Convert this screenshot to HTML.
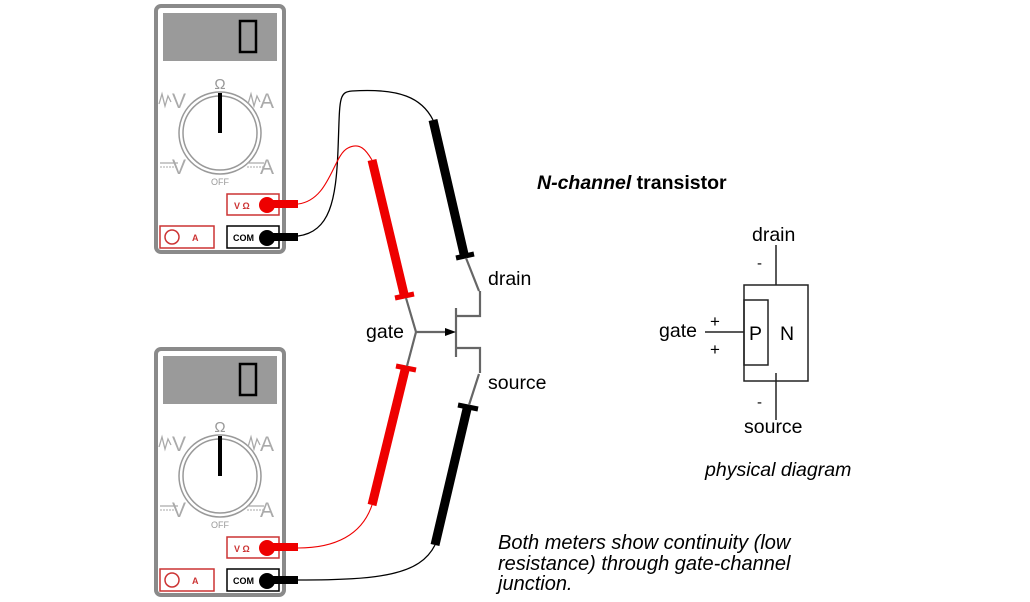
<!DOCTYPE html>
<html><head><meta charset="utf-8"><style>
html,body{margin:0;padding:0;background:#fff}
svg{display:block;font-family:"Liberation Sans",sans-serif}
</style></head><body>
<svg width="1030" height="602" viewBox="0 0 1030 602" xmlns="http://www.w3.org/2000/svg">
<!-- Meter 1 -->
<g transform="translate(0,0)">
<rect x="156" y="6" width="128" height="246" rx="5" fill="#fff" stroke="#8a8a8a" stroke-width="4"/>
<rect x="163" y="13" width="114" height="48" fill="#9a9a9a"/>
<rect x="240" y="21" width="16" height="31" fill="none" stroke="#000" stroke-width="2.5"/>
<circle cx="220" cy="133" r="41" fill="none" stroke="#999" stroke-width="1.5"/>
<circle cx="220" cy="133" r="37" fill="none" stroke="#999" stroke-width="1.5"/>
<line x1="220" y1="93" x2="220" y2="133" stroke="#000" stroke-width="4"/>
<text x="220" y="89" font-size="15" fill="#999" text-anchor="middle">Ω</text>
<text x="172" y="108" font-size="21" fill="#aaa">V</text>
<path d="M159,104 l3,-10 l3,12 l3,-10 l3,6" fill="none" stroke="#aaa" stroke-width="1.3"/>
<text x="260" y="108" font-size="21" fill="#aaa">A</text>
<path d="M248,104 l3,-10 l3,12 l3,-10 l3,6" fill="none" stroke="#aaa" stroke-width="1.3"/>
<text x="172" y="174" font-size="21" fill="#aaa">V</text>
<line x1="160" y1="163" x2="178" y2="163" stroke="#aaa" stroke-width="1.3"/>
<line x1="160" y1="167" x2="178" y2="167" stroke="#aaa" stroke-width="1" stroke-dasharray="2,1"/>
<text x="260" y="174" font-size="21" fill="#aaa">A</text>
<line x1="247" y1="163" x2="264" y2="163" stroke="#aaa" stroke-width="1.3"/>
<line x1="247" y1="167" x2="264" y2="167" stroke="#aaa" stroke-width="1" stroke-dasharray="2,1"/>
<text x="220" y="185" font-size="9" fill="#999" text-anchor="middle">OFF</text>
<rect x="227" y="194" width="52" height="21" fill="#fff" stroke="#c33" stroke-width="1.5"/>
<text x="234" y="209" font-size="9" font-weight="bold" fill="#c33">V Ω</text>
<rect x="160" y="226" width="54" height="22" fill="#fff" stroke="#c33" stroke-width="1.5"/>
<circle cx="172" cy="237" r="7" fill="none" stroke="#c33" stroke-width="1.5"/>
<text x="192" y="241" font-size="9" font-weight="bold" fill="#c33">A</text>
<rect x="227" y="226" width="52" height="22" fill="#fff" stroke="#000" stroke-width="1.5"/>
<text x="233" y="241" font-size="9" font-weight="bold" fill="#000">COM</text>
<rect x="266" y="200" width="32" height="8" fill="#e00"/>
<circle cx="267" cy="205" r="8" fill="#e00"/>
<rect x="266" y="233" width="32" height="8" fill="#000"/>
<circle cx="267" cy="238" r="8" fill="#000"/>
</g>
<!-- Meter 2 -->
<g transform="translate(0,343)">
<rect x="156" y="6" width="128" height="246" rx="5" fill="#fff" stroke="#8a8a8a" stroke-width="4"/>
<rect x="163" y="13" width="114" height="48" fill="#9a9a9a"/>
<rect x="240" y="21" width="16" height="31" fill="none" stroke="#000" stroke-width="2.5"/>
<circle cx="220" cy="133" r="41" fill="none" stroke="#999" stroke-width="1.5"/>
<circle cx="220" cy="133" r="37" fill="none" stroke="#999" stroke-width="1.5"/>
<line x1="220" y1="93" x2="220" y2="133" stroke="#000" stroke-width="4"/>
<text x="220" y="89" font-size="15" fill="#999" text-anchor="middle">Ω</text>
<text x="172" y="108" font-size="21" fill="#aaa">V</text>
<path d="M159,104 l3,-10 l3,12 l3,-10 l3,6" fill="none" stroke="#aaa" stroke-width="1.3"/>
<text x="260" y="108" font-size="21" fill="#aaa">A</text>
<path d="M248,104 l3,-10 l3,12 l3,-10 l3,6" fill="none" stroke="#aaa" stroke-width="1.3"/>
<text x="172" y="174" font-size="21" fill="#aaa">V</text>
<line x1="160" y1="163" x2="178" y2="163" stroke="#aaa" stroke-width="1.3"/>
<line x1="160" y1="167" x2="178" y2="167" stroke="#aaa" stroke-width="1" stroke-dasharray="2,1"/>
<text x="260" y="174" font-size="21" fill="#aaa">A</text>
<line x1="247" y1="163" x2="264" y2="163" stroke="#aaa" stroke-width="1.3"/>
<line x1="247" y1="167" x2="264" y2="167" stroke="#aaa" stroke-width="1" stroke-dasharray="2,1"/>
<text x="220" y="185" font-size="9" fill="#999" text-anchor="middle">OFF</text>
<rect x="227" y="194" width="52" height="21" fill="#fff" stroke="#c33" stroke-width="1.5"/>
<text x="234" y="209" font-size="9" font-weight="bold" fill="#c33">V Ω</text>
<rect x="160" y="226" width="54" height="22" fill="#fff" stroke="#c33" stroke-width="1.5"/>
<circle cx="172" cy="237" r="7" fill="none" stroke="#c33" stroke-width="1.5"/>
<text x="192" y="241" font-size="9" font-weight="bold" fill="#c33">A</text>
<rect x="227" y="226" width="52" height="22" fill="#fff" stroke="#000" stroke-width="1.5"/>
<text x="233" y="241" font-size="9" font-weight="bold" fill="#000">COM</text>
<rect x="266" y="200" width="32" height="8" fill="#e00"/>
<circle cx="267" cy="205" r="8" fill="#e00"/>
<rect x="266" y="233" width="32" height="8" fill="#000"/>
<circle cx="267" cy="238" r="8" fill="#000"/>
</g>

<!-- wires -->
<path d="M298,236 C330,232 336,200 338,150 C340,100 338,92 352,91 C400,88 422,98 433,120" fill="none" stroke="#000" stroke-width="1.3"/>
<path d="M298,204 C330,200 333,155 348,148 C360,142 366,150 372,160" fill="none" stroke="#e00" stroke-width="1.1"/>
<path d="M372,505 C362,535 335,548 298,548" fill="none" stroke="#e00" stroke-width="1.1"/>
<path d="M435,545 C420,575 380,580 298,580" fill="none" stroke="#000" stroke-width="1.3"/>

<!-- probes -->
<line x1="433" y1="120" x2="464" y2="254" stroke="#000" stroke-width="9"/>
<line x1="456" y1="258" x2="474" y2="254" stroke="#000" stroke-width="5"/>
<line x1="372" y1="160" x2="404" y2="294" stroke="#e00" stroke-width="9"/>
<line x1="395" y1="298" x2="414" y2="294" stroke="#e00" stroke-width="5"/>
<line x1="372" y1="505" x2="405" y2="370" stroke="#e00" stroke-width="9"/>
<line x1="396" y1="366" x2="416" y2="370" stroke="#e00" stroke-width="5"/>
<line x1="435" y1="545" x2="467" y2="409" stroke="#000" stroke-width="9"/>
<line x1="458" y1="405" x2="478" y2="409" stroke="#000" stroke-width="5"/>

<!-- gray leads -->
<g stroke="#666" stroke-width="2.2" fill="none">
<line x1="466" y1="258" x2="479" y2="291"/>
<line x1="406" y1="298" x2="416" y2="332"/>
<line x1="416" y1="332" x2="407" y2="366"/>
<line x1="469" y1="405" x2="479" y2="374"/>
<line x1="416" y1="332" x2="448" y2="332"/>
<line x1="456" y1="308" x2="456" y2="357"/>
<polyline points="456,316 480,316 480,291"/>
<polyline points="456,348 480,348 480,373"/>
</g>
<polygon points="456,332 445,328 445,336" fill="#000"/>

<text x="488" y="285" font-size="19.5">drain</text>
<text x="366" y="338" font-size="19.5">gate</text>
<text x="488" y="389" font-size="19.5">source</text>

<text x="537" y="189" font-size="19.5" font-weight="bold"><tspan font-style="italic">N-channel</tspan> transistor</text>

<!-- physical diagram -->
<g stroke="#222" stroke-width="1.5" fill="none">
<rect x="744" y="285" width="64" height="96"/>
<rect x="744" y="300" width="24" height="65"/>
<line x1="776" y1="245" x2="776" y2="285"/>
<line x1="776" y1="373" x2="776" y2="420"/>
<line x1="705" y1="332" x2="744" y2="332"/>
</g>
<text x="752" y="241" font-size="19.5">drain</text>
<text x="757" y="268" font-size="15">-</text>
<text x="659" y="337" font-size="19.5">gate</text>
<text x="710" y="327" font-size="17">+</text>
<text x="710" y="355" font-size="17">+</text>
<text x="749" y="340" font-size="19.5">P</text>
<text x="780" y="340" font-size="19.5">N</text>
<text x="757" y="407" font-size="15">-</text>
<text x="744" y="433" font-size="19.5">source</text>
<text x="705" y="476" font-size="19.5" font-style="italic">physical diagram</text>

<text font-size="20" font-style="italic">
<tspan x="498" y="549">Both meters show continuity (low</tspan>
<tspan x="498" y="570">resistance) through gate-channel</tspan>
<tspan x="498" y="590">junction.</tspan>
</text>
</svg>
</body></html>
